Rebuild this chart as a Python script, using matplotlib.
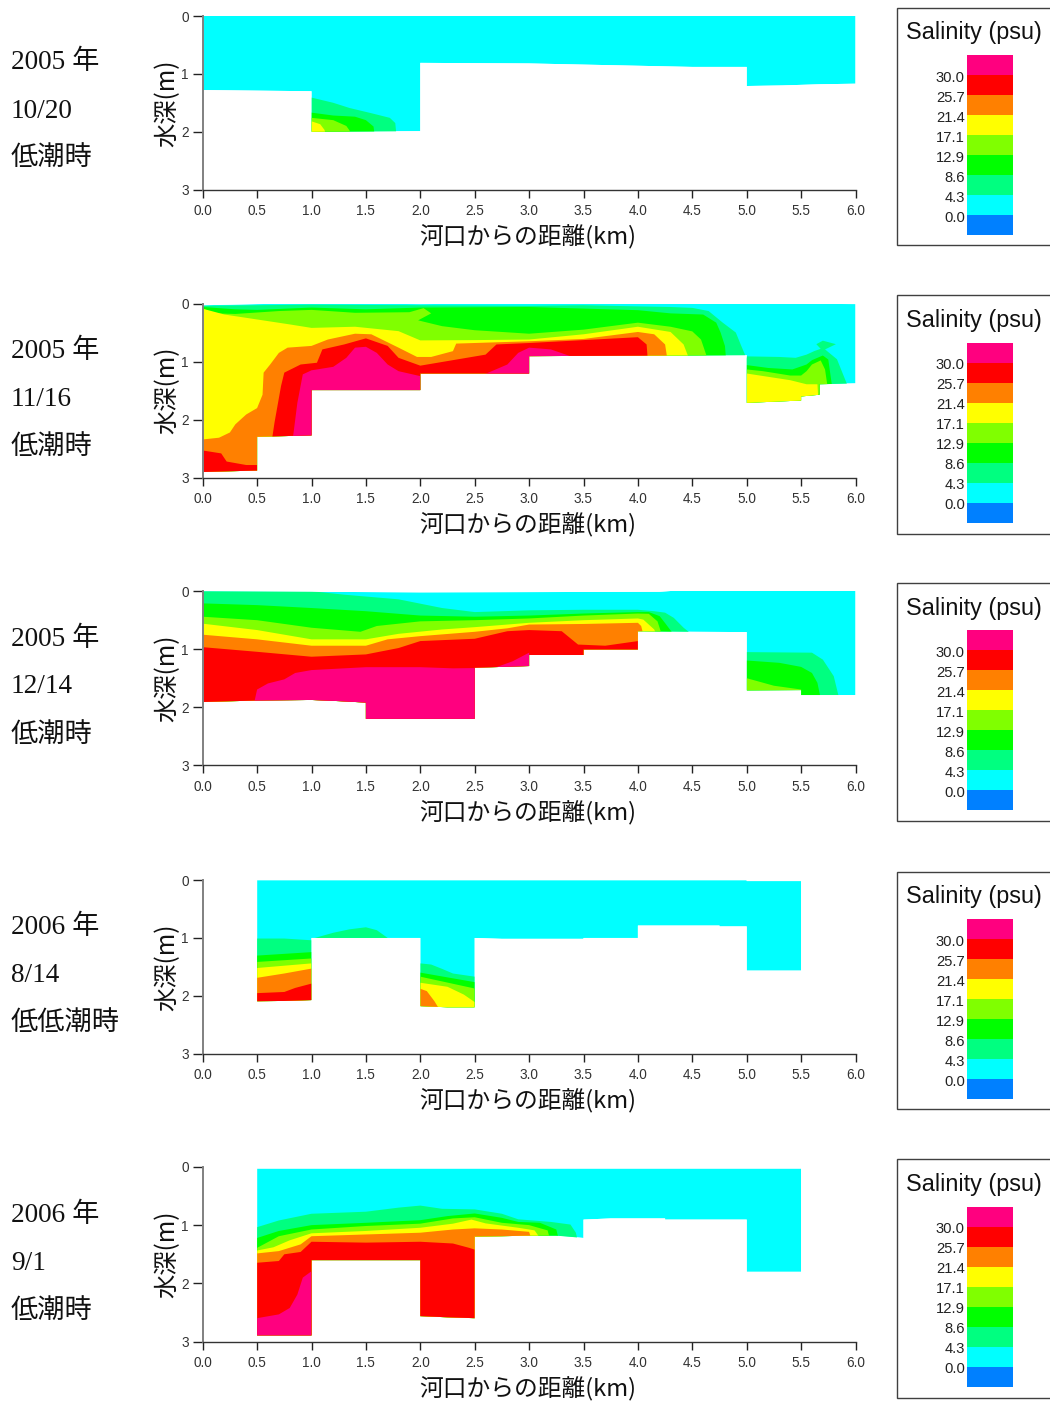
# -*- coding: utf-8 -*-
"""河口からの距離と水深の塩分縦断図 (5 panels)"""
import matplotlib
matplotlib.use('Agg')
import matplotlib.pyplot as plt
from matplotlib.patches import Polygon, Rectangle

W, H = 1050, 1405
DEEP = 3.4

level_labels = ['0.0', '4.3', '8.6', '12.9', '17.1', '21.4', '25.7', '30.0']
# colours from the lowest class to the highest
class_colors = ['#0080ff', '#00ffff', '#00ff80', '#00ff00', '#80ff00',
                '#ffff00', '#ff8000', '#ff0000', '#ff007f']

date_year = ['2005 年', '2005 年', '2005 年', '2006 年', '2006 年']
date_day = ['10/20', '11/16', '12/14', '8/14', '9/1']
date_tide = ['低潮時', '低潮時', '低潮時', '低低潮時', '低潮時']

# ---- 2005 10/20
p1_surface = ([0, 3, 3, 5, 5, 6], [0, 0, -0.012, -0.012, 0, 0])
p1_bottom = ([0, 0.5, 1, 1, 2, 2, 3, 3.5, 4, 4.5, 5, 5, 5.33, 5.67, 6],
             [1.28, 1.29, 1.30, 2.0, 1.99, 0.81, 0.82, 0.84, 0.86, 0.88, 0.88, 1.21, 1.2, 1.18, 1.17])
p1_iso = [
    [([1, 1.2, 1.35, 1.55, 1.72, 1.77, 1.78], [1.41, 1.5, 1.59, 1.68, 1.76, 1.85, 2.05])],
    [([1, 1.2, 1.4, 1.5, 1.57, 1.58], [1.67, 1.72, 1.74, 1.8, 1.91, 2.05])],
    [([1, 1.2, 1.32, 1.35, 1.36], [1.76, 1.8, 1.9, 1.98, 2.05])],
    [([1, 1.08, 1.12, 1.13], [1.82, 1.87, 1.97, 2.05])],
]

# ---- 2005 11/16
p2_surface = ([0, 0.5, 1, 2, 3, 5, 6], [0.03, 0.01, 0, 0.01, 0, 0, 0.01])
p2_bottom = ([0, 0.5, 0.5, 1, 1, 2, 2, 3, 3, 5, 5, 5.5, 5.5, 5.67, 5.67, 6],
             [2.9, 2.875, 2.295, 2.27, 1.49, 1.49, 1.205, 1.205, 0.906, 0.89, 1.71, 1.67, 1.6, 1.57, 1.39, 1.375])
p2_iso = [
    [([0, 0.5, 1, 2, 3, 3.5, 4, 4.3, 4.5, 4.65, 4.78, 4.9, 4.95, 5],
      [0.04, 0.03, 0.02, 0.03, 0.04, 0.03, 0.05, 0.06, 0.075, 0.13, 0.33, 0.5, 0.73, 0.95]),
     ([5, 5.3, 5.45, 5.55, 5.62, 5.68, 5.64, 5.7, 5.82, 5.72, 5.83, 5.92, 5.93],
      [0.91, 0.92, 0.935, 0.88, 0.82, 0.78, 0.7, 0.64, 0.7, 0.79, 0.96, 1.38, 1.5])],
    [([0, 0.3, 0.5, 1, 1.5, 2, 3, 4, 4.3, 4.6, 4.72, 4.76, 4.8, 4.81],
      [0.06, 0.1, 0.11, 0.07, 0.1, 0.07, 0.06, 0.115, 0.17, 0.19, 0.33, 0.5, 0.73, 0.95]),
     ([5, 5.2, 5.42, 5.55, 5.6, 5.7, 5.75, 5.78, 5.79],
      [1.06, 1.11, 1.135, 1.05, 0.975, 0.895, 0.965, 1.365, 1.5])],
    [([0, 0.1, 0.3, 0.7, 1, 1.4, 1.9, 2.03, 2.1, 1.98, 2.2, 2.5, 3, 3.5, 4, 4.3, 4.5, 4.58, 4.63, 4.64],
      [0.085, 0.17, 0.18, 0.13, 0.11, 0.16, 0.15, 0.08, 0.17, 0.29, 0.39, 0.46, 0.52, 0.45, 0.33, 0.4, 0.48, 0.62, 0.895, 0.95]),
     ([5, 5.15, 5.4, 5.5, 5.55, 5.6, 5.68, 5.72, 5.74, 5.75],
      [1.135, 1.165, 1.24, 1.24, 1.165, 1.05, 0.98, 1.135, 1.39, 1.5])],
    [([0, 0.2, 0.5, 0.8, 1, 1.4, 1.8, 2, 2.5, 3, 3.5, 4, 4.3, 4.42, 4.46, 4.47],
      [0.09, 0.19, 0.275, 0.36, 0.42, 0.4, 0.476, 0.635, 0.63, 0.62, 0.53, 0.4, 0.49, 0.705, 0.9, 0.95]),
     ([5, 5.4, 5.55, 5.65, 5.66], [1.205, 1.32, 1.39, 1.39, 1.7])],
    [([0, 0.15, 0.25, 0.3, 0.4, 0.5, 0.55, 0.56, 0.62, 0.7, 0.78, 1, 1.15, 1.4, 1.55, 1.8, 1.97, 2.1, 2.3, 2.33, 3, 3.5, 4, 4.15, 4.25, 4.27],
      [2.34, 2.31, 2.22, 2.08, 1.91, 1.8, 1.57, 1.19, 1.05, 0.85, 0.76, 0.73, 0.62, 0.52, 0.53, 0.76, 0.92, 0.92, 0.82, 0.69, 0.65, 0.61, 0.49, 0.53, 0.705, 0.95])],
    [([0, 0.17, 0.22, 0.4, 0.5], [2.53, 2.58, 2.72, 2.78, 2.78]),
     ([0.64, 0.66, 0.72, 0.75, 0.9, 1.05, 1.1, 1.3, 1.5, 1.7, 1.8, 2, 2.3, 2.6, 2.7, 3, 4, 4.08, 4.09],
      [2.3, 2.05, 1.42, 1.19, 1.05, 1.02, 0.79, 0.705, 0.6, 0.73, 0.935, 1.07, 0.975, 0.88, 0.705, 0.68, 0.58, 0.705, 0.95])],
    [([0.83, 0.87, 0.92, 1, 1.2, 1.32, 1.4, 1.5, 1.6, 1.7, 1.8, 2],
      [2.3, 1.71, 1.22, 1.15, 1.09, 0.935, 0.76, 0.745, 0.85, 1.05, 1.165, 1.25]),
     ([2.6, 2.8, 2.9, 3, 3.2, 3.4], [1.21, 1.05, 0.85, 0.76, 0.79, 0.92])],
]

# ---- 2005 12/14
p3_surface = ([0, 2, 4.2, 4.5, 6], [0, 0.02, 0.01, -0.03, -0.03])
p3_bottom = ([0, 0.5, 1, 1.25, 1.5, 1.5, 2.5, 2.5, 3, 3, 3.5, 3.5, 4, 4, 4.5, 5, 5, 5.5, 5.5, 6],
             [1.91, 1.885, 1.875, 1.895, 1.92, 2.2, 2.2, 1.32, 1.29, 1.1, 1.1, 1.005, 1.005, 0.69, 0.7, 0.705, 1.71, 1.705, 1.79, 1.79])
p3_iso = [
    [([0, 1, 1.3, 1.8, 2.2, 2.5, 3, 3.5, 4, 4.15, 4.25, 4.33, 4.42, 4.5],
      [0, 0, 0.06, 0.14, 0.29, 0.36, 0.33, 0.32, 0.32, 0.345, 0.37, 0.46, 0.63, 0.75]),
     ([5, 5.6, 5.7, 5.8, 5.85], [1.05, 1.06, 1.18, 1.465, 1.85])],
    [([0, 0.5, 1, 1.5, 2, 2.5, 3, 3.5, 4, 4.1, 4.2, 4.25, 4.33],
      [0.21, 0.24, 0.29, 0.345, 0.42, 0.44, 0.42, 0.385, 0.36, 0.36, 0.43, 0.55, 0.75]),
     ([5, 5.3, 5.5, 5.6, 5.65, 5.68], [1.195, 1.235, 1.305, 1.41, 1.58, 1.85])],
    [([0, 0.5, 1, 1.45, 1.6, 2, 2.5, 3, 3.5, 4, 4.1, 4.18, 4.22],
      [0.44, 0.5, 0.63, 0.7, 0.6, 0.52, 0.5, 0.47, 0.42, 0.385, 0.39, 0.52, 0.75]),
     ([5, 5.25, 5.5], [1.5, 1.63, 1.695])],
    [([0, 0.5, 1, 1.5, 1.8, 2.2, 2.5, 3, 3.5, 4, 4.05, 4.15, 4.17],
      [0.56, 0.67, 0.83, 0.83, 0.735, 0.66, 0.62, 0.545, 0.5, 0.47, 0.49, 0.66, 0.75])],
    [([0, 0.5, 1, 1.5, 1.7, 2, 2.5, 2.8, 3, 3.5, 4, 4.03, 4.05],
      [0.75, 0.83, 0.94, 0.94, 0.83, 0.775, 0.7, 0.64, 0.575, 0.565, 0.545, 0.6, 0.75])],
    [([0, 0.5, 1, 1.5, 1.8, 2, 2.5, 2.8, 3, 3.3, 3.45, 3.7, 4],
      [0.965, 1.045, 1.13, 1.09, 0.98, 0.86, 0.82, 0.69, 0.67, 0.69, 0.92, 0.94, 0.86])],
    [([0.47, 0.5, 0.6, 0.75, 0.85, 1, 1.5, 2, 2.3, 2.5, 2.7, 2.85, 3],
      [1.95, 1.695, 1.59, 1.52, 1.41, 1.36, 1.31, 1.31, 1.33, 1.325, 1.31, 1.207, 1.06])],
]

# ---- 2006 8/14
p4_surface = ([0.5, 5, 5, 5.5], [0, 0, 0.015, 0.015])
p4_bottom = ([0.5, 0.75, 1, 1, 2, 2, 2.25, 2.5, 2.5, 2.75, 3.5, 3.5, 4, 4, 4.75, 4.75, 5, 5, 5.5],
             [2.095, 2.09, 2.075, 1.0, 1.0, 2.18, 2.2, 2.2, 1.0, 1.015, 1.015, 1.0, 1.0, 0.785, 0.785, 0.8, 0.8, 1.565, 1.565])
p4_iso = [
    [([0.5, 0.75, 1], [1.01, 1.01, 1.04]),
     ([1.03, 1.2, 1.35, 1.5, 1.6, 1.7], [1.0, 0.91, 0.85, 0.815, 0.865, 1.0]),
     ([2, 2.1, 2.2, 2.3, 2.5], [1.44, 1.46, 1.535, 1.615, 1.67])],
    [([0.5, 1], [1.305, 1.245]), ([2, 2.5], [1.6, 1.765])],
    [([0.5, 1], [1.415, 1.355]), ([2, 2.5], [1.67, 1.875])],
    [([0.5, 1], [1.52, 1.44]), ([2, 2.25, 2.4, 2.5], [1.775, 1.845, 1.98, 2.11])],
    [([0.5, 0.75, 1], [1.69, 1.615, 1.53]), ([2, 2.06, 2.13, 2.18], [1.88, 1.92, 2.095, 2.25])],
    [([0.5, 0.75, 0.85, 1], [1.955, 1.935, 1.865, 1.79])],
]

# ---- 2006 9/1
p5_surface = ([0.5, 5.5], [0.03, 0.03])
p5_bottom = ([0.5, 1, 1, 2, 2, 2.25, 2.5, 2.5, 2.75, 3, 3.25, 3.5, 3.5, 3.75, 4.25, 4.25, 5, 5, 5.5],
             [2.89, 2.89, 1.6, 1.6, 2.56, 2.58, 2.595, 1.195, 1.19, 1.18, 1.18, 1.22, 0.905, 0.885, 0.885, 0.905, 0.905, 1.8, 1.8])
p5_iso = [
    [([0.5, 0.7, 1, 1.5, 1.8, 2, 2.2, 2.5, 2.75, 2.9, 3.2, 3.38, 3.43, 3.45],
      [1.035, 0.92, 0.805, 0.77, 0.7, 0.665, 0.72, 0.73, 0.805, 0.9, 0.945, 0.99, 1.13, 1.3])],
    [([0.5, 0.7, 1, 1.5, 2, 2.25, 2.5, 2.75, 2.9, 3.1, 3.25, 3.28],
      [1.22, 1.1, 1.0, 0.96, 0.915, 0.845, 0.8, 0.875, 0.945, 0.96, 1.075, 1.3])],
    [([0.5, 0.7, 1, 1.5, 2, 2.3, 2.5, 2.75, 3, 3.17, 3.2],
      [1.39, 1.19, 1.075, 1.015, 0.975, 0.885, 0.865, 0.96, 1.0, 1.09, 1.3])],
    [([0.5, 0.65, 0.8, 1, 1.5, 2, 2.3, 2.47, 2.6, 2.9, 3.05, 3.13],
      [1.435, 1.38, 1.26, 1.14, 1.1, 1.045, 0.975, 0.905, 0.97, 1.045, 1.09, 1.3])],
    [([0.5, 0.7, 0.9, 1, 1.5, 2, 2.3, 2.5, 2.75, 3, 3.03],
      [1.485, 1.445, 1.33, 1.19, 1.16, 1.13, 1.075, 1.055, 1.075, 1.115, 1.3])],
    [([0.5, 0.7, 0.75, 0.9, 1, 1.5, 2, 2.3, 2.45, 2.5],
      [1.645, 1.615, 1.5, 1.46, 1.285, 1.3, 1.285, 1.315, 1.39, 1.42])],
    [([0.5, 0.7, 0.8, 0.87, 0.92, 1], [2.595, 2.53, 2.42, 2.19, 1.9, 1.79])],
]

surfaces = [p1_surface, p2_surface, p3_surface, p4_surface, p5_surface]
bottoms = [p1_bottom, p2_bottom, p3_bottom, p4_bottom, p5_bottom]
isolines = [p1_iso, p2_iso, p3_iso, p4_iso, p5_iso]

# pixel layout of each row
axis_top = [16, 303.5, 591.2, 880.2, 1166.8]
axis_bot = [189.6, 477.8, 765.2, 1053.5, 1341.8]
box_top = [8, 295, 583, 872, 1159]
box_bot = [245, 534, 821, 1109, 1398]
bar_top = [55, 342.5, 630, 919, 1206.5]
text_y = [(62, 111, 158), (351, 399, 447), (639, 687, 735), (927, 975, 1023), (1215, 1263, 1311)]

CJK = ['Noto Sans CJK JP', 'Liberation Sans']
SERIF = ['Liberation Serif', 'Noto Sans CJK JP']
SANS = ['Liberation Sans', 'DejaVu Sans']


def px_axes(fig, left, top, right, bottom):
    return fig.add_axes([left / W, 1 - bottom / H, (right - left) / W, (bottom - top) / H])


def draw_section(ax, surface, bottom, iso):
    outline = list(zip(surface[0], surface[1])) + list(zip(bottom[0][::-1], bottom[1][::-1]))
    water = Polygon(outline, closed=True, transform=ax.transData)
    base = ax.fill(*zip(*outline), color=class_colors[1], linewidth=0)[0]
    base.set_clip_path(water)
    # each isoline fills everything below it, the water outline trims it
    for k, segments in enumerate(iso):
        color = class_colors[k + 2]
        for xs, ds in segments:
            px = list(xs) + [xs[-1], xs[0]]
            py = list(ds) + [DEEP, DEEP]
            poly = ax.fill(px, py, color=color, linewidth=0)[0]
            poly.set_clip_path(water)


def draw_legend(fig, i):
    fig.add_artist(Rectangle((897 / W, 1 - box_bot[i] / H), 170 / W, (box_bot[i] - box_top[i]) / H,
                             transform=fig.transFigure, facecolor='white',
                             edgecolor='#404040', linewidth=1, zorder=-1))
    fig.text(974 / W, 1 - (box_top[i] + 25) / H, 'Salinity (psu)', family=SANS, fontsize=16.8,
             color='#111111', ha='center', va='center')
    ax = px_axes(fig, 967, bar_top[i], 1013, bar_top[i] + 180)
    for k, color in enumerate(class_colors):
        ax.bar(0.5, 1, width=1, bottom=k, color=color, linewidth=0)
    ax.set_xlim(0, 1)
    ax.set_ylim(0, len(class_colors))
    ax.set_xticks([])
    ax.set_yticks([k - 0.07 for k in range(1, len(class_colors))])
    ax.set_yticklabels(level_labels, family=SANS, fontsize=10.6, color='#222222')
    ax.tick_params(axis='y', length=0, pad=1.5)
    for s in ax.spines.values():
        s.set_visible(False)


fig = plt.figure(figsize=(W / 100, H / 100), dpi=100, facecolor='white')

for i in range(5):
    ax = px_axes(fig, 202.7, axis_top[i], 855.5, axis_bot[i])
    draw_section(ax, surfaces[i], bottoms[i], isolines[i])
    ax.set_xlim(0, 6)
    ax.set_ylim(3, 0)
    ax.set_xticks([n * 0.5 for n in range(13)])
    ax.set_xticklabels(['%.1f' % (n * 0.5) for n in range(13)], family=SANS, fontsize=9.8, color='#333333')
    ax.set_yticks([0, 1, 2, 3])
    ax.set_yticklabels(['0', '1', '2', '3'], family=SANS, fontsize=9.8, color='#333333')
    ax.tick_params(axis='x', length=6, width=1, color='#222222', pad=4.5)
    ax.tick_params(axis='y', length=7, width=1, color='#222222', pad=3)
    ax.spines['top'].set_visible(False)
    ax.spines['right'].set_visible(False)
    ax.spines['left'].set_color('#808080')
    ax.spines['left'].set_linewidth(1.4)
    ax.spines['bottom'].set_color('#333333')
    ax.spines['bottom'].set_linewidth(1)
    ax.patch.set_alpha(0)

    fig.text(528 / W, 1 - (axis_bot[i] + 46.5) / H, '河口からの距離(km)', family=CJK, fontsize=17.1,
             color='#111111', ha='center', va='center')
    fig.text(167 / W, 1 - (axis_top[i] + 87) / H, '水深(m)', family=CJK, fontsize=17.5,
             color='#111111', rotation=90, ha='center', va='center')

    for label, y in zip((date_year[i], date_day[i], date_tide[i]), text_y[i]):
        fig.text(11 / W, 1 - y / H, label, family=SERIF, fontsize=19.6, color='#111111',
                 ha='left', va='center')

    draw_legend(fig, i)

fig.savefig('out.png', dpi=100)
